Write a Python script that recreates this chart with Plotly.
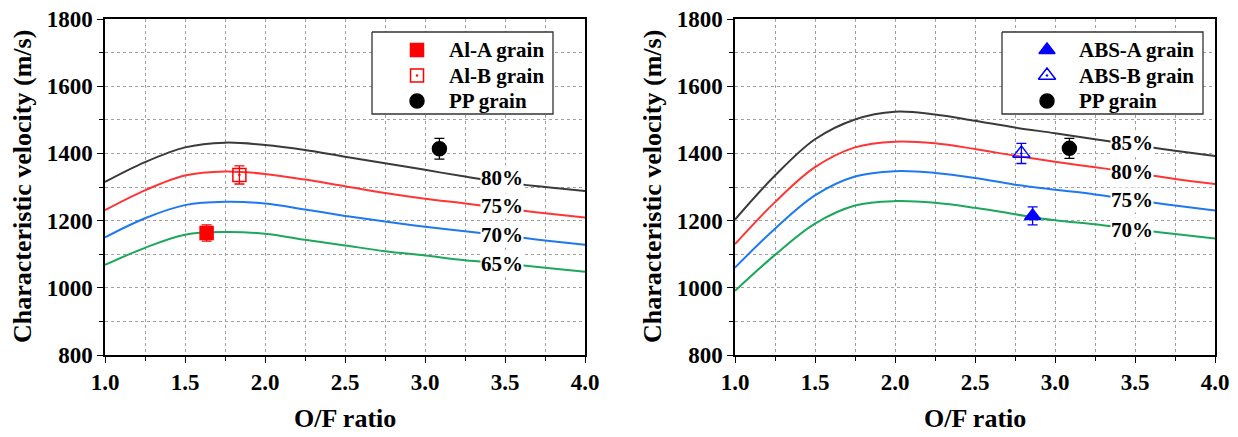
import plotly.graph_objects as go

# ---------------- data ----------------
of_grid = [1.0, 1.25, 1.5, 1.75, 2.0, 2.25, 2.5, 2.75, 3.0, 3.25, 3.5, 3.75, 4.0]

# Left panel (Al grains) efficiency curves
al_80 = [1315, 1374, 1418, 1432, 1425, 1410, 1390, 1371, 1351, 1331, 1313, 1300, 1288]
al_75 = [1231, 1290, 1334, 1346, 1339, 1322, 1302, 1282, 1265, 1251, 1236, 1222, 1209]
al_70 = [1150, 1207, 1246, 1256, 1251, 1233, 1214, 1197, 1182, 1168, 1155, 1141, 1128]
al_65 = [1068, 1119, 1158, 1166, 1161, 1143, 1126, 1109, 1096, 1082, 1072, 1060, 1048]

# Right panel (ABS grains) efficiency curves
abs_85 = [1203, 1334, 1442, 1501, 1524, 1516, 1497, 1477, 1460, 1442, 1425, 1408, 1392]
abs_80 = [1130, 1255, 1359, 1418, 1435, 1430, 1413, 1393, 1375, 1359, 1342, 1324, 1309]
abs_75 = [1060, 1176, 1275, 1331, 1347, 1342, 1327, 1307, 1292, 1278, 1261, 1245, 1230]
abs_70 = [991, 1098, 1191, 1245, 1258, 1253, 1238, 1219, 1201, 1189, 1174, 1160, 1147]

# Experimental points: (O/F, c*, error)
al_a = ([1.635], [1163], [24])
al_b = ([1.84], [1336], [27])
pp_left = ([3.09], [1414], [31])
abs_a = ([2.86], [1214], [27])
abs_b = ([2.79], [1400], [30])
pp_right = ([3.09], [1415], [30])

left_labels = ["80%", "75%", "70%", "65%"]
left_label_y = [1327, 1243, 1158, 1072]
right_labels = ["85%", "80%", "75%", "70%"]
right_label_y = [1430, 1346, 1260, 1171]
label_x = 3.48

left_legend_names = ["Al-A grain", "Al-B grain", "PP grain"]
right_legend_names = ["ABS-A grain", "ABS-B grain", "PP grain"]

x_ticks = [1.0, 1.5, 2.0, 2.5, 3.0, 3.5, 4.0]
x_tick_text = ["1.0", "1.5", "2.0", "2.5", "3.0", "3.5", "4.0"]
y_ticks = [800, 1000, 1200, 1400, 1600, 1800]

# ---------------- style / layout ----------------
FONT = "Liberation Serif, Times New Roman, DejaVu Serif, serif"
OFF = 8  # page body margin
W, H = 1238 - OFF, 437 - OFF
C_GRAY = "#3a3a3a"
C_RED = "#ff3535"
C_BLUE = "#1f78f0"
C_GREEN = "#1ca85a"
curve_colors = [C_GRAY, C_RED, C_BLUE, C_GREEN]


def px(x):
    return (x - OFF) / W


def py(y):
    return 1 - (y - OFF) / H


fig = go.Figure()

left_curves = [al_80, al_75, al_70, al_65]
right_curves = [abs_85, abs_80, abs_75, abs_70]

for ys, col in zip(left_curves, curve_colors):
    fig.add_trace(go.Scatter(x=of_grid, y=ys, mode="lines",
                             line=dict(color=col, width=2, shape="spline", smoothing=1.0),
                             showlegend=False, xaxis="x", yaxis="y", hoverinfo="skip"))
for ys, col in zip(right_curves, curve_colors):
    fig.add_trace(go.Scatter(x=of_grid, y=ys, mode="lines",
                             line=dict(color=col, width=2, shape="spline", smoothing=1.0),
                             showlegend=False, xaxis="x2", yaxis="y2", hoverinfo="skip"))

marker_styles_left = [("square", "#ff0000", 13), ("square-open-dot", "#ff0000", 13), ("circle", "#000000", 14)]
marker_styles_right = [("triangle-up", "#0000ff", 14), ("triangle-up-open-dot", "#0000ff", 15), ("circle", "#000000", 14)]


def point(data, style, xa, ya):
    symbol, color, size = style
    return go.Scatter(
        x=data[0], y=data[1], mode="markers", showlegend=False,
        marker=dict(symbol=symbol, color=color, size=size, line=dict(color=color, width=1.5)),
        error_y=dict(type="data", array=data[2], color=color, thickness=1.3, width=5),
        xaxis=xa, yaxis=ya,
    )


for d, st in zip([al_a, al_b, pp_left], marker_styles_left):
    fig.add_trace(point(d, st, "x", "y"))
for d, st in zip([abs_a, abs_b, pp_right], marker_styles_right):
    fig.add_trace(point(d, st, "x2", "y2"))

# ---- custom legends on an invisible overlay axis measured in pixels ----
legend_boxes = [(372, 32, 553, 114), (1002, 32, 1203, 114)]
legend_sym_x = [417, 1047]
legend_text_x = [447, 1077]
legend_rows = [50, 75.5, 101]
annotations = []
for (x0, y0, x1, y1), sx, tx, names, styles in zip(legend_boxes, legend_sym_x, legend_text_x,
                                                    [left_legend_names, right_legend_names],
                                                    [marker_styles_left, marker_styles_right]):
    fig.add_trace(go.Scatter(x=[x0 - OFF, x1 - OFF, x1 - OFF, x0 - OFF, x0 - OFF],
                             y=[y0 - OFF, y0 - OFF, y1 - OFF, y1 - OFF, y0 - OFF],
                             mode="lines", fill="toself", fillcolor="white",
                             line=dict(color="#333333", width=1.3),
                             showlegend=False, hoverinfo="skip", xaxis="x3", yaxis="y3"))
    for ry, nm, (symbol, color, size) in zip(legend_rows, names, styles):
        fig.add_trace(go.Scatter(x=[sx - OFF], y=[ry - OFF], mode="markers", showlegend=False,
                                 marker=dict(symbol=symbol, color=color, size=size,
                                             line=dict(color=color, width=1.5)),
                                 hoverinfo="skip", xaxis="x3", yaxis="y3"))
        annotations.append(dict(x=tx - OFF, y=ry - OFF, xref="x3", yref="y3", text="<b>%s</b>" % nm,
                                showarrow=False, xanchor="left", yanchor="middle",
                                font=dict(family=FONT, size=21, color="black")))

for txt, yv in zip(left_labels, left_label_y):
    annotations.append(dict(x=label_x, y=yv, xref="x", yref="y", text="<b>%s</b>" % txt, showarrow=False,
                            xanchor="center", yanchor="middle",
                            font=dict(family=FONT, size=21, color="black"), bgcolor="white",
                            borderpad=0))
for txt, yv in zip(right_labels, right_label_y):
    annotations.append(dict(x=label_x, y=yv, xref="x2", yref="y2", text="<b>%s</b>" % txt, showarrow=False,
                            xanchor="center", yanchor="middle",
                            font=dict(family=FONT, size=21, color="black"), bgcolor="white",
                            borderpad=0))

# axis titles
for xc in [22, 652]:
    annotations.append(dict(x=px(xc), y=py(187), xref="paper", yref="paper",
                            xanchor="center", yanchor="middle",
                            text="<b>Characteristic velocity (m/s)</b>", textangle=-90, showarrow=False,
                            font=dict(family=FONT, size=26, color="black")))
for xc in [345, 975]:
    annotations.append(dict(x=px(xc), y=py(418), xref="paper", yref="paper",
                            xanchor="center", yanchor="middle",
                            text="<b>O/F ratio</b>", showarrow=False,
                            font=dict(family=FONT, size=26, color="black")))

ydom = [py(355), py(19)]


def xaxis(dom, anchor):
    return dict(domain=dom, anchor=anchor, range=[1.0, 4.0], tickvals=x_ticks,
                ticktext=["<b>%s</b>" % t for t in x_tick_text],
                tickfont=dict(family=FONT, size=23, color="black"),
                showline=True, linecolor="black", linewidth=1.5, mirror=True,
                ticks="outside", ticklen=6, tickcolor="black", tickwidth=1.2,
                showgrid=True, gridcolor="#a0a0a0", griddash="dot", gridwidth=1,
                minor=dict(dtick=0.25, tick0=1.0, showgrid=True, gridcolor="#a0a0a0", griddash="dot",
                           ticks="outside", ticklen=4, tickcolor="black"),
                zeroline=False, fixedrange=True, automargin=False, ticklabeloverflow="allow")


def yaxis(anchor):
    return dict(domain=ydom, anchor=anchor, range=[800, 1800], tickvals=y_ticks,
                ticktext=["<b>%d</b>" % v for v in y_ticks],
                tickfont=dict(family=FONT, size=23, color="black"),
                showline=True, linecolor="black", linewidth=1.5, mirror=True,
                ticks="outside", ticklen=6, tickcolor="black", tickwidth=1.2,
                showgrid=True, gridcolor="#a0a0a0", griddash="dot", gridwidth=1,
                minor=dict(dtick=100, tick0=800, showgrid=True, gridcolor="#a0a0a0", griddash="dot",
                           ticks="outside", ticklen=4, tickcolor="black"),
                zeroline=False, fixedrange=True, automargin=False, ticklabeloverflow="allow")


fig.update_layout(
    width=W, height=H,
    margin=dict(l=0, r=0, t=0, b=0, autoexpand=False),
    paper_bgcolor="white", plot_bgcolor="rgba(0,0,0,0)",
    xaxis=xaxis([px(105), px(585)], "y"),
    yaxis=yaxis("x"),
    xaxis2=xaxis([px(735), px(1215)], "y2"),
    yaxis2=yaxis("x2"),
    xaxis3=dict(domain=[0, 1], range=[0, W], visible=False, fixedrange=True, anchor="y3"),
    yaxis3=dict(domain=[0, 1], range=[H, 0], visible=False, fixedrange=True, anchor="x3"),
    annotations=annotations,
    showlegend=False,
    font=dict(family=FONT),
)

fig.write_html("out.html")
